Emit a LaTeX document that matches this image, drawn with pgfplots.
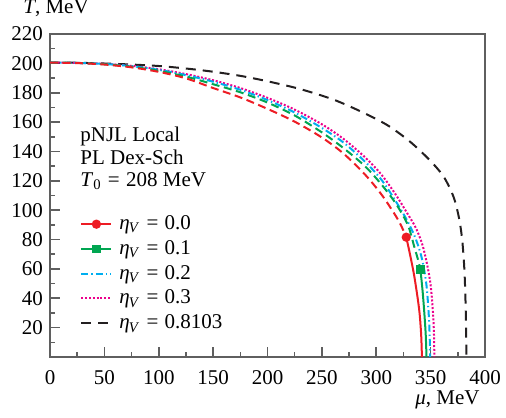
\documentclass[border=0pt]{standalone}
\usepackage{fontspec}
\setmainfont{Liberation Serif}
\usepackage{pgfplots}
\pgfplotsset{compat=1.18}

\definecolor{cred}{RGB}{237,28,36}
\definecolor{cgreen}{RGB}{0,166,81}
\definecolor{ccyan}{RGB}{0,174,239}
\definecolor{cmag}{RGB}{236,0,140}
\definecolor{cblack}{RGB}{35,31,32}
\definecolor{axgray}{RGB}{95,95,95}

\newcommand{\etaV}{\textit{η}\textsubscript{\kern-0.5pt\textit{V}}}
\newcommand{\eq}{\hspace{0.3em}=\hspace{0.3em}}
\newcommand{\labfont}{\fontsize{10.5}{12}\selectfont}

\begin{document}
\begin{tikzpicture}
\begin{axis}[
  scale only axis,
  width=217.5pt, height=161.5pt,
  xmin=0, xmax=400, ymin=0, ymax=220,
  xtick={0,50,...,400},
  minor xtick={25,75,...,375},
  ytick={20,40,...,220},
  minor ytick={10,30,...,210},
  tick pos=left,
  tick align=inside,
  major tick length=5pt,
  minor tick length=2.5pt,
  axis line style={axgray, line width=1pt},
  every tick/.style={axgray, line width=0.8pt},
  /pgf/number format/assume math mode=true,
  ticklabel style={font=\labfont},
  xticklabel style={yshift=-3pt},
  xlabel={\textit{μ}, MeV},
  xlabel style={font=\labfont, at={(rel axis cs:1,0)}, anchor=base east, xshift=-2.5pt, yshift=-23.5pt, inner sep=0pt},
  ylabel={\textit{T}, MeV},
  ylabel style={font=\labfont, rotate=-90, at={(rel axis cs:0,1)}, anchor=base west, xshift=-13.5pt, yshift=10pt, inner sep=0pt},
  legend cell align=left,
  legend style={draw=none, fill=none, font=\labfont, at={(axis description cs:0.069,0.448)}, anchor=north west,
    inner sep=0pt, row sep=0.9pt, nodes={inner ysep=1.5pt, inner xsep=3.5pt}},
  legend image code/.code={\draw[mark repeat=2,mark phase=2,#1] plot coordinates {(0pt,0pt) (7.5pt,0pt) (15pt,0pt)};},
  every axis plot/.append style={line width=1pt},
]

% legend samples
\addlegendimage{cred, solid, mark=*, mark size=1.8pt}
\addlegendentry{\etaV\eq 0.0}
\addlegendimage{cgreen, solid, mark=square*, mark size=1.7pt}
\addlegendentry{\etaV\eq 0.1}
\addlegendimage{ccyan, dash pattern=on 3.5pt off 1.5pt on 0.7pt off 1.5pt}
\addlegendentry{\etaV\eq 0.2}
\addlegendimage{cmag, dash pattern=on 1pt off 0.9pt}
\addlegendentry{\etaV\eq 0.3}
\addlegendimage{cblack, dash pattern=on 5pt off 3.5pt}
\addlegendentry{\etaV\eq 0.8103}

% eta_V = 0.8103
\addplot[cblack, dash pattern=on 5pt off 3.5pt, smooth, tension=0.5, forget plot] coordinates {
(0,200.5) (25,200.4) (50,199.9) (75,199.2) (100,198.2) (125,196.5) (150,194.3)
(175,191.5) (200,187.8) (230,182.5) (260,175.5) (285,167.5) (310,158) (331,146.7)
(349,134.2) (362,122.8) (371,109.2) (376,95) (379,80) (381,60) (382,40) (382.6,20) (383,0)};

% eta_V = 0.3
\addplot[cmag, dash pattern=on 1pt off 0.9pt, smooth, tension=0.5, forget plot] coordinates {
(0,200.5) (25,200.3) (50,199.7) (75,198.3) (100,196) (125,192.7) (150,188.5)
(175,183.2) (200,176.5) (225,168.5) (250,158.5) (270,148.5) (290,135.8) (305,124)
(318,110.5) (328,98.5) (336,88.5) (342,77.5) (346.5,64) (350,49) (352.2,30)
(353.1,15) (353.4,0)};

% eta_V = 0.2
\addplot[ccyan, dash pattern=on 3.5pt off 1.5pt on 0.7pt off 1.5pt, smooth, tension=0.5, forget plot] coordinates {
(0,200.5) (25,200.3) (50,199.6) (75,198.1) (100,195.6) (125,192) (150,187.5)
(175,182) (200,175) (225,166.5) (250,156) (270,146) (290,132.8) (305,120.5)
(318,106) (328,93.5) (336,81) (342,67) (346,50) (348,32) (349,17) (349.5,0)};

% eta_V = 0.1: crossover (dashed) and first-order line (solid)
\addplot[cgreen, dash pattern=on 4pt off 2.3pt, smooth, tension=0.5, forget plot] coordinates {
(0,200.5) (25,200.3) (50,199.4) (75,197.7) (100,194.9) (125,191) (150,185.8)
(175,180.3) (200,173.3) (225,164.5) (250,153) (270,142.2) (290,129.7) (305,117.3)
(318,104.5) (329,90) (335,75) (338.5,66) (340.6,59.6)};
\addplot[cgreen, solid, smooth, tension=0.5, forget plot] coordinates {
(340.6,59.6) (342.6,45) (344.2,30) (345.5,15) (346.2,0)};
\addplot[cgreen, only marks, mark=square*, mark size=1.7pt, forget plot] coordinates {(340.6,59.6)};

% eta_V = 0.0: crossover (dashed) and first-order line (solid)
\addplot[cred, dash pattern=on 4pt off 2.3pt, smooth, tension=0.5, forget plot] coordinates {
(0,200.5) (25,200.2) (50,199.2) (75,197.3) (100,194.2) (125,189.8) (150,183.2)
(175,176.8) (200,169) (225,160.3) (250,149.5) (270,138.5) (290,124) (305,110.5)
(318,96) (323.5,88.5) (327.6,81.6)};
\addplot[cred, solid, smooth, tension=0.5, forget plot] coordinates {
(327.6,81.6) (331,70) (334.5,57) (337.5,43) (339.8,30) (341.3,15) (342,0)};
\addplot[cred, only marks, mark=*, mark size=1.8pt, forget plot] coordinates {(327.6,81.6)};

\node[anchor=base west, inner sep=0pt, font=\labfont] at (axis cs:27.6,146.7) {pNJL Local};
\node[anchor=base west, inner sep=0pt, font=\labfont] at (axis cs:27.6,130.8) {PL Dex-Sch};
\node[anchor=base west, inner sep=0pt, font=\labfont] at (axis cs:27.6,116.0) {\textit{T}\textsubscript{0}\eq 208 MeV};
\end{axis}
\pgfresetboundingbox
\useasboundingbox ([shift={(-25pt,-30pt)}]current axis.south west) rectangle ([shift={(10.5pt,17pt)}]current axis.north east);
\end{tikzpicture}
\end{document}
